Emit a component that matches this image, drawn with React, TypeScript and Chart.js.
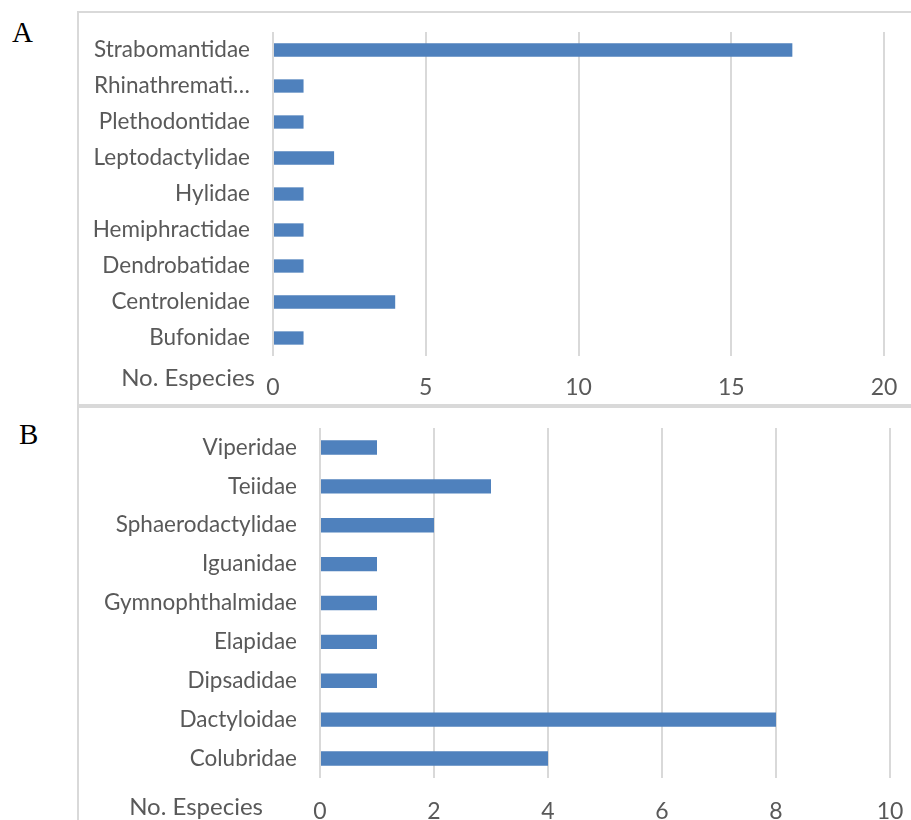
import React, { useEffect, useRef } from 'react';
import { Chart, registerables } from 'chart.js';

Chart.register(...registerables);

const amphibianFamilies = ['Strabomantidae', 'Rhinathremati…', 'Plethodontidae', 'Leptodactylidae', 'Hylidae', 'Hemiphractidae', 'Dendrobatidae', 'Centrolenidae', 'Bufonidae'];
const amphibianSpecies = [17, 1, 1, 2, 1, 1, 1, 4, 1];
const amphibianMax = 20;
const amphibianStep = 5;

const reptileFamilies = ['Viperidae', 'Teiidae', 'Sphaerodactylidae', 'Iguanidae', 'Gymnophthalmidae', 'Elapidae', 'Dipsadidae', 'Dactyloidae', 'Colubridae'];
const reptileSpecies = [1, 3, 2, 1, 1, 1, 1, 8, 4];
const reptileMax = 10;
const reptileStep = 2;

const axisTitle = 'No. Especies';
const panelLabels = ['A', 'B'];

const FONT = 'Lato, "Open Sans", sans-serif';
const TEXT = '#595959';
const GRID = '#d9d9d9';
const BAR = '#4F81BD';

type PanelCfg = {
  labels: string[];
  values: number[];
  max: number;
  step: number;
  width: number;
  height: number;
  yWidth: number;
  xHeight: number;
  padTop: number;
  padRight: number;
  tickPad: number;
  titleX: number;
  titleY: number;
};

function BarPanel(props: PanelCfg) {
  const ref = useRef<HTMLCanvasElement | null>(null);
  useEffect(() => {
    if (!ref.current) return;
    const titlePlugin = {
      id: 'axisTitleText',
      afterDraw(chart: any) {
        const ctx = chart.ctx;
        ctx.save();
        ctx.font = `24px ${FONT}`;
        ctx.fillStyle = TEXT;
        ctx.textAlign = 'right';
        ctx.textBaseline = 'middle';
        ctx.fillText(axisTitle, props.titleX, props.titleY);
        ctx.restore();
      },
    };
    const chart = new Chart(ref.current, {
      type: 'bar',
      data: {
        labels: props.labels,
        datasets: [
          {
            data: props.values,
            backgroundColor: BAR,
            borderWidth: 0,
            barPercentage: 0.37,
            categoryPercentage: 1,
          },
        ],
      },
      options: {
        indexAxis: 'y',
        responsive: false,
        animation: false,
        layout: { padding: { top: props.padTop, right: props.padRight, left: 0, bottom: 0 } },
        plugins: { legend: { display: false }, tooltip: { enabled: false }, title: { display: false } },
        scales: {
          x: {
            min: 0,
            max: props.max,
            ticks: { stepSize: props.step, color: TEXT, font: { family: FONT, size: 23 }, padding: props.tickPad, maxRotation: 0 },
            grid: { color: GRID, lineWidth: 2, drawTicks: false },
            border: { display: false },
            afterFit: (s: any) => {
              s.height = props.xHeight;
              s.paddingLeft = 0;
              s.paddingRight = 0;
            },
          },
          y: {
            ticks: { color: TEXT, font: { family: FONT, size: 22.5 }, padding: 23, autoSkip: false },
            grid: { display: false, drawTicks: false },
            border: { display: false },
            afterFit: (s: any) => {
              s.width = props.yWidth;
              s.paddingTop = 0;
              s.paddingBottom = 0;
            },
          },
        },
      },
      plugins: [titlePlugin],
    });
    return () => chart.destroy();
  }, []);
  return <canvas ref={ref} width={props.width} height={props.height} style={{ display: 'block', width: props.width, height: props.height }} />;
}

export default function App() {
  const line = (style: React.CSSProperties) => (
    <div style={{ position: 'absolute', background: GRID, ...style }} />
  );
  const serif: React.CSSProperties = { position: 'absolute', fontFamily: '"Liberation Serif", "Times New Roman", serif', fontSize: 29, lineHeight: '32px', color: '#000' };
  return (
    <div style={{ position: 'absolute', left: 0, top: 0, width: 911, height: 820, overflow: 'hidden', background: '#fff' }}>
      <div style={{ position: 'absolute', left: 79, top: 13 }}>
        <BarPanel
          labels={amphibianFamilies}
          values={amphibianSpecies}
          max={amphibianMax}
          step={amphibianStep}
          width={832}
          height={391}
          yWidth={194}
          xHeight={48}
          padTop={19}
          padRight={27}
          tickPad={18}
          titleX={176}
          titleY={365}
        />
      </div>
      <div style={{ position: 'absolute', left: 79, top: 409 }}>
        <BarPanel
          labels={reptileFamilies}
          values={reptileSpecies}
          max={reptileMax}
          step={reptileStep}
          width={832}
          height={411}
          yWidth={241}
          xHeight={42}
          padTop={19}
          padRight={21}
          tickPad={20}
          titleX={184}
          titleY={398}
        />
      </div>
      {line({ left: 77, top: 11, width: 834, height: 2 })}
      {line({ left: 77, top: 11, width: 2, height: 809 })}
      {line({ left: 77, top: 404, width: 834, height: 4 })}
      <div style={{ ...serif, left: 12, top: 16 }}>{panelLabels[0]}</div>
      <div style={{ ...serif, left: 19, top: 418 }}>{panelLabels[1]}</div>
    </div>
  );
}
